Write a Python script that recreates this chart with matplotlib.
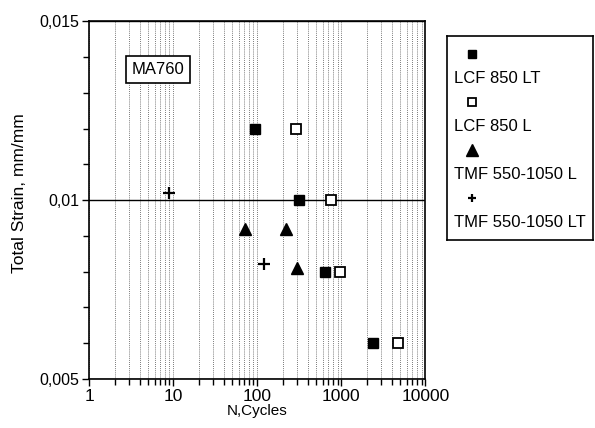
import matplotlib

matplotlib.use("Agg")
import matplotlib.pyplot as plt  # noqa: E402
import numpy as np  # noqa: E402
from matplotlib.ticker import FixedLocator, LogLocator, NullFormatter  # noqa: E402

plt.rcParams["font.family"] = ["Liberation Sans", "DejaVu Sans"]

# Data (MA760 fatigue results).
lcf_lt_n = [95, 310, 640, 2400]
lcf_lt_eps = [0.0120, 0.0100, 0.0080, 0.0060]
lcf_l_n = [290, 750, 950, 4700]
lcf_l_eps = [0.0120, 0.0100, 0.0080, 0.0060]
tmf_l_n = [71, 220, 300]
tmf_l_eps = [0.0092, 0.0092, 0.0081]
tmf_lt_n = [9, 120]
tmf_lt_eps = [0.0102, 0.0082]

series = [
    ("LCF 850 LT", lcf_lt_n, lcf_lt_eps, dict(marker="s", mfc="black")),
    ("LCF 850 L", lcf_l_n, lcf_l_eps, dict(marker="s", mfc="white", mew=1.3)),
    ("TMF 550-1050 L", tmf_l_n, tmf_l_eps, dict(marker="^", mfc="black")),
    ("TMF 550-1050 LT", tmf_lt_n, tmf_lt_eps, dict(marker="+", mew=1.6)),
]
plot_ms = [7.5, 7.5, 9, 8]
legend_ms = [5.5, 5.5, 8, 6]

y_ticks = [0.005, 0.01, 0.015]
y_labels = ["0,005", "0,01", "0,015"]
x_ticks = [1, 10, 100, 1000, 10000]
x_labels = ["1", "10", "100", "1000", "10000"]

fig = plt.figure(figsize=(5.95, 4.28), dpi=100)
ax = fig.add_axes([0.150, 0.115, 0.565, 0.835])

for (name, n, eps, style), ms in zip(series, plot_ms):
    ax.plot(n, eps, ls="none", color="black", mec="black", ms=ms, label=name,
            zorder=3, **style)

ax.set_xscale("log")
ax.set_xlim(1, 10000)
ax.set_ylim(0.005, 0.015)

ax.xaxis.set_major_locator(FixedLocator(x_ticks))
ax.set_xticklabels(x_labels)
ax.xaxis.set_minor_locator(LogLocator(base=10, subs=np.arange(2, 10)))
ax.xaxis.set_minor_formatter(NullFormatter())
ax.yaxis.set_major_locator(FixedLocator(y_ticks))
ax.set_yticklabels(y_labels)
ax.yaxis.set_minor_locator(FixedLocator(np.arange(0.005, 0.0151, 0.001)))

ax.tick_params(axis="both", which="major", direction="out", length=5, width=1,
               pad=2)
ax.tick_params(axis="x", which="major", labelsize=12.5)
ax.tick_params(axis="y", which="major", labelsize=11.5)
ax.tick_params(axis="both", which="minor", direction="out", length=4, width=1)

# Dotted vertical grid at every log position, one solid line at 0.01.
ax.grid(True, axis="x", which="both", ls=(0, (1, 1.5)), lw=0.6, color="0.3")
ax.grid(True, axis="y", which="major", ls="-", lw=1.0, color="black")
for s in ax.spines.values():
    s.set_linewidth(1.2)

ax.set_xlabel("N,Cycles", fontsize=11, labelpad=0)
ax.set_ylabel("Total Strain, mm/mm", fontsize=12.5)
ax.yaxis.set_label_coords(-0.185, 0.52)

ax.text(0.205, 0.865, "MA760", transform=ax.transAxes, fontsize=12,
        ha="center", va="center",
        bbox=dict(boxstyle="square,pad=0.35", fc="white", ec="black", lw=1.2))

# Legend box on the right: marker above each label.
lax = fig.add_axes([447 / 595, 1 - 240 / 428, 146 / 595, 204 / 428])
lax.set_xlim(0, 1)
lax.set_ylim(0, 1)
lax.set_xticks([])
lax.set_yticks([])
for s in lax.spines.values():
    s.set_linewidth(1.2)
for i, ((name, n, eps, style), ms) in enumerate(zip(series, legend_ms)):
    y0 = 0.91 - i * 0.235
    lax.plot([0.17], [y0], ls="none", color="black", mec="black", ms=ms, **style)
    lax.text(0.05, y0 - 0.12, name, fontsize=12, ha="left", va="center")

fig.savefig("out.png", dpi=100)
